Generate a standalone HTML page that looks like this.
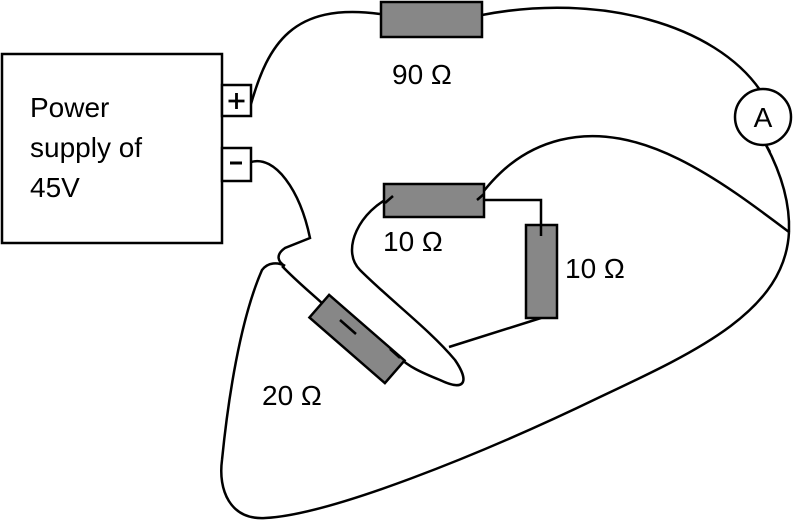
<!DOCTYPE html>
<html><head><meta charset="utf-8"><style>
html,body{margin:0;padding:0;background:#fff;}
svg{display:block;font-family:"Liberation Sans",Arial,sans-serif;}
</style></head><body>
<svg width="800" height="523" viewBox="0 0 800 523">
<g fill="none" stroke="#000" stroke-width="2.5">
<path d="M251,104 C268,45 292,2 380,14"/>
<path d="M482,15 C600,-8 715,25 760,90"/>
<path d="M766,145 C782,175 790,205 789,232"/>
<path d="M789,232 C720,180 640,120 560,140 C520,150 495,175 477,200"/>
<path d="M477,200 L541,200 L541,236"/>
<path d="M541,318 L449,347"/>
<path d="M393,196 C360,210 340,250 360,270 C390,300 430,330 455,360 C470,382 465,392 440,380 C420,372 408,366 400,358"/>
<path d="M340,320 C320,300 300,285 282,266"/>
<path d="M251,162 C275,155 300,190 310,238 L285,248 C275,255 278,262 285,266"/>
<path d="M789,232 C785,310 700,350 600,397 C480,455 330,515 265,518 C230,520 218,490 222,460 C228,400 240,320 262,270 C268,262 278,262 285,266"/>
</g>
<rect x="2" y="54" width="220" height="189" fill="#fff" stroke="#000" stroke-width="2.5"/>
<text x="30" y="117" font-size="28">Power</text>
<text x="30" y="157" font-size="28">supply of</text>
<text x="30" y="197" font-size="28">45V</text>
<rect x="222" y="85" width="29" height="31" fill="#fff" stroke="#000" stroke-width="2.5"/>
<path d="M236.5,93 L236.5,109 M228.5,101 L244.5,101" stroke="#000" stroke-width="2.8"/>
<rect x="222" y="148" width="29" height="33" fill="#fff" stroke="#000" stroke-width="2.5"/>
<path d="M230,163 L242,163" stroke="#000" stroke-width="3"/>
<rect x="381" y="2" width="101" height="35" fill="#878787" stroke="#000" stroke-width="2.5"/>
<text x="392" y="84" font-size="28">90 Ω</text>
<circle cx="763" cy="117" r="28" fill="#fff" stroke="#000" stroke-width="2.5"/>
<text x="763" y="127" font-size="28" text-anchor="middle">A</text>
<path d="M766,145 L770,152" stroke="#000" stroke-width="2.5"/>
<rect x="384" y="184" width="100" height="33" fill="#878787" stroke="#000" stroke-width="2.5"/>
<path d="M477,200 L484,194 M393,196 L385,203" stroke="#000" stroke-width="2.5" fill="none"/>
<text x="383" y="251" font-size="28">10 Ω</text>
<rect x="526" y="225" width="31" height="93" fill="#878787" stroke="#000" stroke-width="2.5"/>
<path d="M541,225 L541,236" stroke="#000" stroke-width="2.5"/>
<text x="565" y="278" font-size="28">10 Ω</text>
<g transform="translate(357,339) rotate(41)">
<rect x="-50" y="-15" width="100" height="30" fill="#878787" stroke="#000" stroke-width="2.5"/>
</g>
<path d="M340,320 L356,334 M400,358 L390,349" stroke="#000" stroke-width="2.5" fill="none"/>
<text x="262" y="405" font-size="28">20 Ω</text>
</svg>
</body></html>
